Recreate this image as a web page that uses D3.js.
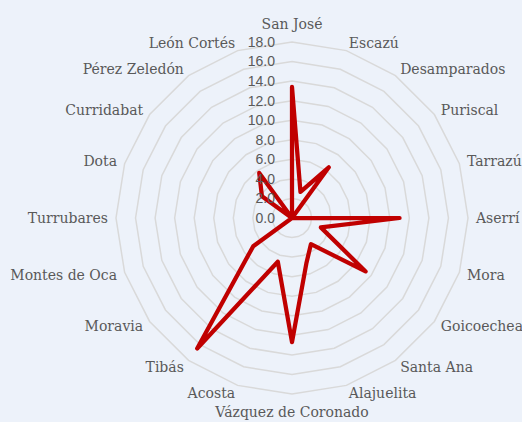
<!DOCTYPE html>
<html lang="en">
	<head>
		<meta charset="utf-8">
		<title>Radar</title>
		<script type="text/javascript" src="https://cdn.jsdelivr.net/npm/d3@7"></script>
		<style type="text/css">
			html, body {
				margin: 0;
				padding: 0;
				background: #edf2fa;
			}
			.cat {
				font-family: "DejaVu Serif", serif;
				font-size: 14px;
				fill: #595959;
			}
			.tick {
				font-family: "Liberation Sans", sans-serif;
				font-size: 14px;
				fill: #595959;
			}
		</style>
	</head>
	<body>
		<script type="text/javascript">

			// categories, going round clockwise from the top
			let cantones = ["San José", "Escazú", "Desamparados", "Puriscal", "Tarrazú",
				"Aserrí", "Mora", "Goicoechea", "Santa Ana", "Alajuelita",
				"Vázquez de Coronado", "Acosta", "Tibás", "Moravia", "Montes de Oca",
				"Turrubares", "Dota", "Curridabat", "Pérez Zeledón", "León Cortés"];

			let valores = [13.4, 2.8, 6.4, 0, 0,
				11.0, 3.1, 9.3, 3.3, 4.8,
				12.7, 4.7, 16.5, 4.9, 0,
				0, 0, 3.8, 5.7, 0];

			let ticks = [0, 2, 4, 6, 8, 10, 12, 14, 16, 18];

			let w = 522;
			let h = 422;
			let cx = 292;
			let cy = 218;
			let radius = 176;

			let svg = d3.select("body")
						.append("svg")
						.attr("width", w)
						.attr("height", h);

			let rScale = d3.scaleLinear()
							.domain([0, 18])
							.range([0, radius]);

			let angle = d3.scaleLinear()
							.domain([0, cantones.length])
							.range([0, 2 * Math.PI]);

			let g = svg.append("g")
						.attr("transform", "translate(" + cx + "," + cy + ")");

			// grid rings (polygons)
			let ring = d3.lineRadial()
						.angle((d, i) => angle(i))
						.radius((d) => d)
						.curve(d3.curveLinearClosed);

			g.selectAll("path.ring")
				.data(ticks.filter((t) => t > 0))
				.enter()
				.append("path")
				.attr("class", "ring")
				.attr("d", (t) => ring(cantones.map(() => rScale(t))))
				.attr("fill", "none")
				.attr("stroke", "#d9d9d9")
				.attr("stroke-width", 1.5);

			// data line
			let line = d3.lineRadial()
						.angle((d, i) => angle(i))
						.radius((d) => rScale(d))
						.curve(d3.curveLinearClosed);

			g.append("path")
				.attr("d", line(valores))
				.attr("fill", "none")
				.attr("stroke", "#c00000")
				.attr("stroke-width", 4.25)
				.attr("stroke-linejoin", "round");

			// tick labels
			g.selectAll("text.tick")
				.data(ticks)
				.enter()
				.append("text")
				.attr("class", "tick")
				.attr("x", -17)
				.attr("y", (t) => -rScale(t))
				.attr("dy", "0.35em")
				.attr("text-anchor", "end")
				.text((t) => d3.format(".1f")(t));

			// category labels
			let labR = radius + 8;
			g.selectAll("text.cat")
				.data(cantones)
				.enter()
				.append("text")
				.attr("class", "cat")
				.attr("x", (d, i) => labR * Math.sin(angle(i)))
				.attr("y", (d, i) => {
					let y = -labR * Math.cos(angle(i));
					if (i == 0) return y - 5;
					if (i == 10) return y + 4;
					return y;
				})
				.attr("dy", (d, i) => {
					if (i == 0) return "0em";
					if (i == 10) return "0.8em";
					return "0.35em";
				})
				.attr("text-anchor", (d, i) => {
					if (i == 0 || i == 10) return "middle";
					return i < 10 ? "start" : "end";
				})
				.text((d) => d);

		</script>
	</body>
</html>
